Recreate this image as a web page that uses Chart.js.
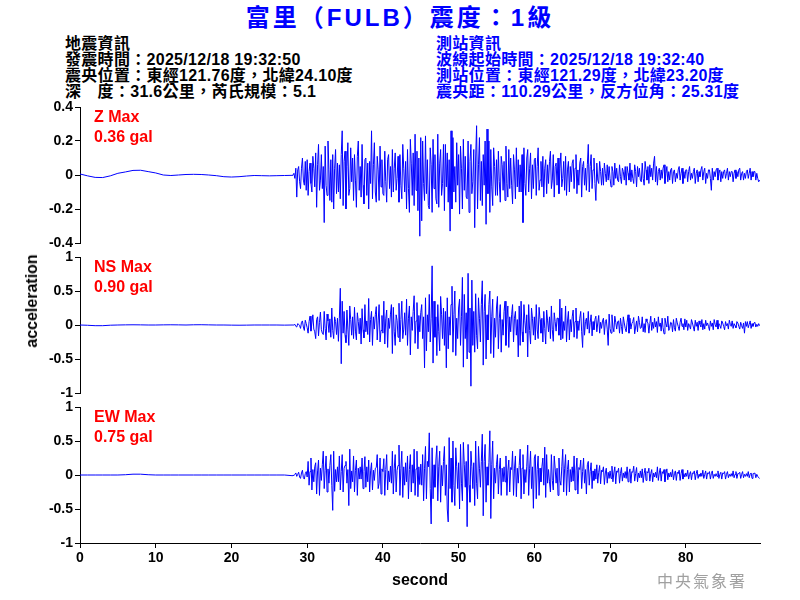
<!DOCTYPE html>
<html><head><meta charset="utf-8">
<script src="https://cdn.jsdelivr.net/npm/chart.js@4.4.1/dist/chart.umd.min.js"></script>
<style>
body{margin:0;width:800px;height:600px;position:relative;background:#fff;overflow:hidden;font-family:"Liberation Sans","Noto Sans CJK TC",sans-serif;}
.abs{position:absolute;white-space:nowrap;}
.title{left:0;top:5px;width:800px;text-align:center;font-weight:bold;font-size:24px;line-height:26px;color:#0000ff;letter-spacing:3px;}
.info{font-weight:bold;font-size:16px;line-height:16px;top:36px;letter-spacing:0.3px;}
.lbl{left:94px;font-weight:bold;font-size:16px;line-height:20px;color:#ff0000;}
.ylab{left:32px;top:301px;font-weight:bold;font-size:16px;line-height:18px;color:#000;transform:translate(-50%,-50%) rotate(-90deg);}
.org{left:657px;top:572px;font-size:16px;line-height:20px;letter-spacing:2px;color:#a0a0a0;}
canvas{position:absolute;left:0;}
</style></head><body>
<div class="abs title">富里（FULB）震度：1級</div>
<div class="abs info" style="left:65px;color:#000;">地震資訊<br>發震時間：2025/12/18 19:32:50<br>震央位置：東經121.76度，北緯24.10度<br>深　度：31.6公里，芮氏規模：5.1</div>
<div class="abs info" style="left:436px;color:#0000ff;">測站資訊<br>波線起始時間：2025/12/18 19:32:40<br>測站位置：東經121.29度，北緯23.20度<br>震央距：110.29公里，反方位角：25.31度</div>
<canvas id="c1" width="800" height="160" style="top:95px"></canvas>
<canvas id="c2" width="800" height="160" style="top:245px"></canvas>
<canvas id="c3" width="800" height="205" style="top:395px"></canvas>
<div class="abs lbl" style="top:107px">Z Max<br>0.36 gal</div>
<div class="abs lbl" style="top:257px">NS Max<br>0.90 gal</div>
<div class="abs lbl" style="top:407px">EW Max<br>0.75 gal</div>
<div class="abs ylab">acceleration</div>
<div class="abs org">中央氣象署</div>
<script>
const xMax = 89.8;
const xTicks = [0, 10, 20, 30, 40, 50, 60, 70, 80];
const zTicks = [0.4, 0.2, 0, -0.2, -0.4];
const hTicks = [1, 0.5, 0, -0.5, -1];
const preStep = 1;
const evStart = 28.125;
const evStep = 0.125;

const zPre = [0.006,-0.005,-0.014,-0.015,-0.005,0.01,0.018,0.027,0.028,0.02,0.012,0,-0.003,0,0.003,0.004,0.003,0,-0.004,-0.01,-0.012,-0.01,-0.006,-0.003,-0.004,-0.005,-0.004,-0.003,-0.002];
const nsPre = [0,-0.004,-0.01,-0.01,-0.003,0,0.002,0.003,0.002,0,0,0.002,0.003,0.002,0,0.003,0.004,0.002,0,0,-0.002,-0.003,-0.002,0,0,0,0,-0.002,0];
const ewPre = [0,0,0,0,0,0,0.004,0.012,0.012,0.004,0,0,0,0,0,0,0,0,0,0,0,0,0,0,0,0,0,0,-0.01];

const zEv = [
0.00,0.01,-0.02,0.04,-0.13,0.03,0.05,-0.04,
-0.08,0.04,0.10,-0.03,-0.06,0.08,-0.09,0.09,
-0.12,0.02,0.07,-0.05,-0.10,0.11,0.04,-0.07,
0.13,-0.19,0.06,0.18,-0.09,-0.03,0.12,-0.08,
0.05,-0.28,0.17,-0.06,-0.12,0.20,0.03,-0.15,
0.09,-0.16,0.12,-0.20,0.04,0.15,-0.11,0.07,
-0.10,0.06,-0.14,0.12,0.26,-0.18,0.08,0.14,
-0.20,0.05,0.19,-0.12,-0.08,0.16,-0.04,0.10,
-0.15,0.12,-0.03,-0.19,0.11,0.20,-0.09,0.05,
-0.13,0.18,-0.06,-0.17,0.09,0.10,-0.12,0.07,
-0.20,0.08,-0.05,0.26,-0.14,0.06,0.19,-0.10,
-0.16,0.11,0.03,-0.15,0.17,-0.07,0.09,-0.11,
-0.12,0.14,-0.04,-0.16,0.09,0.12,-0.08,0.05,
-0.13,0.15,-0.10,0.04,0.13,-0.09,-0.02,0.11,
-0.16,0.12,-0.06,-0.14,0.18,0.04,-0.10,0.08,
-0.20,0.15,-0.08,-0.22,0.21,0.07,-0.12,0.13,
-0.18,0.24,-0.09,0.14,-0.21,0.10,-0.36,0.22,
-0.27,0.20,-0.05,-0.15,0.23,-0.11,0.09,-0.18,
-0.20,0.16,0.06,-0.22,0.21,-0.08,0.12,-0.14,
-0.17,0.24,-0.19,0.07,0.15,-0.12,-0.05,0.18,
-0.21,0.18,-0.07,0.13,-0.16,0.09,-0.33,0.26,
-0.20,0.22,-0.10,0.05,-0.16,0.19,-0.06,0.12,
-0.23,0.17,0.04,-0.20,0.21,-0.09,0.11,-0.13,
-0.14,0.20,-0.22,0.08,0.18,-0.11,-0.04,0.15,
-0.31,0.10,0.29,-0.20,0.06,0.22,-0.15,0.08,
-0.18,0.12,-0.06,0.20,-0.29,0.27,-0.11,0.20,
-0.22,0.15,-0.07,-0.18,0.16,0.05,-0.12,0.09,
-0.12,0.14,-0.04,-0.16,0.11,0.06,-0.09,0.08,
-0.15,0.17,-0.05,-0.13,0.15,-0.08,0.10,-0.06,
-0.17,0.12,0.03,-0.14,0.16,-0.07,0.09,-0.10,
0.06,-0.10,0.12,-0.28,0.16,-0.05,-0.12,0.10,
0.15,-0.10,0.04,0.13,-0.14,0.06,-0.08,0.09,
0.10,-0.12,0.05,0.16,-0.09,-0.03,0.08,-0.07,
0.11,-0.13,0.04,0.09,-0.11,0.06,-0.05,0.08,
0.14,-0.08,-0.03,0.12,-0.13,0.05,0.07,-0.06,
0.10,-0.11,0.04,0.13,-0.07,-0.02,0.08,-0.09,
0.11,-0.12,0.03,0.08,-0.10,0.05,-0.04,0.07,
0.09,-0.08,0.04,0.12,-0.11,0.03,-0.06,0.07,
0.10,-0.13,0.05,0.08,-0.06,0.04,-0.09,0.06,
0.18,-0.10,0.05,0.12,-0.08,0.03,0.10,-0.05,
-0.15,0.07,-0.03,-0.05,0.08,0.02,-0.06,0.04,
-0.06,0.07,0.01,-0.04,0.06,-0.03,0.05,-0.02,
-0.07,0.05,0.02,-0.06,0.07,-0.02,0.04,-0.03,
-0.04,0.06,-0.01,-0.05,0.04,0.02,-0.03,0.05,
-0.06,0.05,0.01,-0.03,0.07,-0.04,0.03,-0.02,
-0.05,0.06,0.02,-0.07,0.05,-0.01,0.04,-0.03,
-0.04,0.07,-0.02,-0.06,0.08,0.03,-0.03,0.05,
-0.05,0.06,-0.01,0.04,-0.03,0.07,0.11,-0.04,
0.05,-0.06,0.02,0.04,-0.03,0.03,-0.02,0.04,
0.06,-0.05,0.01,0.05,-0.04,0.02,-0.03,0.03,
0.04,-0.05,0.02,0.03,-0.04,0.01,-0.02,0.03,
0.05,-0.03,0.01,0.04,-0.05,0.02,-0.02,0.03,
0.03,-0.04,0.02,0.05,-0.03,0.01,-0.02,0.02,
0.04,-0.05,0.01,0.03,-0.04,0.02,-0.01,0.03,
0.05,-0.03,0.02,0.04,-0.05,0.01,-0.02,0.03,
0.03,-0.02,-0.09,0.04,-0.03,0.02,-0.01,0.03,
0.04,-0.03,0.01,0.03,-0.04,0.02,-0.02,0.02,
0.03,-0.02,0.01,0.04,-0.03,0.02,-0.01,0.02,
0.02,-0.04,0.01,0.03,-0.02,0.02,-0.01,0.03,
0.04,-0.03,0.01,0.02,-0.03,0.01,-0.02,0.02,
0.03,-0.02,0.01,0.04,-0.03,0.02,-0.01,0.02,
0.02,-0.03,0.01,-0.02,-0.04,-0.03];

const nsEv = [
0.00,0.00,0.01,-0.02,-0.03,0.02,0.01,-0.01,
-0.05,0.04,0.06,-0.03,-0.08,0.07,0.02,-0.04,
-0.12,0.05,0.13,-0.09,0.03,0.15,-0.06,-0.10,
-0.20,0.08,0.12,-0.16,0.04,0.19,-0.07,-0.12,
-0.14,0.20,-0.05,-0.22,0.16,0.06,-0.11,0.09,
-0.18,0.25,-0.08,-0.20,0.12,0.05,-0.14,0.10,
-0.24,0.10,0.54,-0.57,0.35,-0.12,0.20,-0.15,
-0.26,0.22,-0.06,-0.30,0.28,0.08,-0.15,0.12,
-0.20,0.26,-0.09,-0.22,0.18,0.05,-0.13,0.10,
-0.28,0.24,-0.07,-0.19,0.30,-0.10,0.06,-0.14,
0.39,-0.25,0.08,0.20,-0.30,0.12,-0.06,0.15,
0.27,-0.22,0.06,0.30,-0.25,-0.08,0.14,-0.12,
0.35,-0.28,0.09,0.22,-0.33,0.10,-0.05,0.16,
0.30,-0.42,0.26,-0.10,-0.30,0.15,0.07,-0.18,
0.32,-0.25,0.08,0.35,-0.20,-0.06,0.18,-0.15,
0.38,-0.30,0.10,0.28,-0.44,0.12,-0.08,0.20,
0.43,-0.27,0.06,0.33,-0.35,0.14,-0.10,0.18,
0.30,-0.20,0.12,-0.63,0.40,-0.38,0.15,-0.10,
0.45,-0.25,0.10,0.87,-0.56,0.35,-0.18,0.12,
-0.45,0.30,-0.10,-0.38,0.42,0.15,-0.20,0.25,
-0.30,0.20,-0.63,0.40,-0.35,0.12,-0.15,0.30,
0.57,-0.40,0.15,0.50,-0.45,0.10,-0.20,0.25,
0.38,-0.30,0.12,0.70,-0.62,0.45,-0.20,0.18,
-0.50,0.76,-0.40,0.25,-0.90,0.66,-0.30,0.20,
-0.40,0.46,-0.15,-0.35,0.40,0.10,-0.25,0.30,
0.65,-0.59,0.20,0.45,-0.50,0.15,-0.22,0.30,
0.50,-0.42,0.12,0.38,-0.48,0.10,-0.18,0.25,
0.42,-0.35,0.10,0.30,-0.40,0.08,-0.15,0.20,
0.35,-0.30,0.08,0.28,-0.33,0.12,-0.10,0.15,
0.30,-0.25,0.10,0.20,-0.15,0.08,-0.47,0.28,
-0.30,0.35,-0.10,-0.25,0.30,0.06,-0.12,0.15,
-0.47,0.30,-0.08,-0.28,0.25,0.10,-0.15,0.12,
-0.22,0.30,-0.06,-0.20,0.26,0.08,-0.12,0.10,
-0.25,0.20,-0.05,-0.28,0.22,0.06,-0.10,0.12,
-0.20,0.28,-0.07,-0.24,0.18,0.05,-0.09,0.10,
0.10,-0.15,0.38,-0.22,0.25,-0.20,0.05,-0.08,
0.28,-0.25,0.06,0.20,-0.22,0.08,-0.10,0.12,
0.22,-0.18,0.05,0.25,-0.20,0.06,-0.08,0.10,
0.20,-0.10,-0.33,0.18,-0.15,0.05,0.10,-0.06,
0.20,-0.12,0.04,0.15,-0.16,0.05,-0.07,0.08,
0.13,-0.10,0.03,0.14,-0.12,0.04,-0.05,0.06,
0.10,-0.14,0.05,0.08,-0.06,-0.30,0.16,-0.05,
-0.12,0.15,-0.03,-0.10,0.13,0.04,-0.06,0.05,
0.06,-0.12,0.10,-0.02,-0.13,0.12,0.03,-0.05,
-0.10,0.04,0.15,-0.12,0.10,-0.06,0.02,0.05,
0.11,-0.13,-0.03,0.06,-0.10,0.13,0.04,-0.05,
-0.04,0.12,-0.10,0.02,-0.11,0.09,0.05,0.03,
-0.12,0.02,0.13,-0.08,0.04,-0.05,0.10,-0.03,
0.05,-0.11,0.12,-0.02,0.03,-0.09,0.10,-0.04,
-0.13,0.10,0.02,-0.03,0.13,-0.08,-0.05,0.04,
0.03,-0.10,0.08,-0.04,-0.09,0.10,0.03,-0.02,
-0.08,0.04,0.10,-0.02,0.02,-0.07,0.09,-0.03,
0.07,-0.08,0.02,-0.01,-0.06,0.08,0.03,-0.03,
-0.09,0.07,-0.02,0.04,-0.08,0.06,0.01,-0.03,
0.08,-0.07,0.02,-0.06,0.07,-0.01,0.03,-0.02,
-0.08,0.06,-0.02,0.03,-0.07,0.08,0.01,-0.03,
0.07,-0.06,0.02,-0.01,-0.05,0.06,0.03,-0.02,
-0.07,0.05,-0.01,0.02,-0.06,0.07,0.01,-0.02,
0.06,-0.05,0.02,-0.01,-0.04,0.05,0.03,-0.02,
-0.06,0.04,-0.01,-0.05,0.03,-0.12,0.05,-0.02,
0.05,-0.04,0.01,0.06,-0.05,0.02,-0.02,0.03,
0.04,-0.03,0.01,-0.02,0.02,-0.01];

const ewEv = [
0.00,-0.01,0.01,0.03,-0.02,0.01,0.04,-0.03,
-0.05,0.03,0.07,-0.04,-0.06,0.02,0.05,-0.03,
0.20,-0.15,0.05,0.25,-0.22,0.08,-0.10,0.12,
0.18,-0.28,0.06,0.22,-0.30,0.10,-0.08,0.15,
0.35,-0.20,0.07,0.28,-0.25,0.09,-0.12,0.14,
0.30,-0.15,-0.52,0.35,-0.24,0.08,-0.10,0.12,
-0.10,0.28,-0.22,0.05,0.30,-0.25,0.10,0.14,
0.20,-0.12,0.08,-0.45,0.38,-0.20,0.06,-0.10,
0.28,-0.25,0.07,0.22,-0.30,0.10,-0.06,0.12,
-0.06,0.25,-0.20,0.05,0.27,-0.18,0.12,-0.10,
0.22,-0.25,0.06,0.18,-0.22,0.07,-0.08,0.10,
0.11,0.30,-0.20,-0.12,0.25,-0.28,0.09,0.05,
0.24,-0.30,0.08,0.30,-0.22,0.06,-0.10,0.13,
-0.12,0.35,-0.28,0.10,0.30,-0.25,0.07,0.14,
0.44,-0.30,0.10,0.35,-0.33,0.12,-0.15,0.18,
-0.10,0.28,-0.35,0.08,0.30,-0.25,0.15,-0.12,
0.38,-0.30,0.09,0.35,-0.32,0.12,-0.14,0.16,
-0.15,0.30,-0.38,0.10,0.42,-0.35,0.20,0.12,
0.62,-0.20,-0.72,0.40,-0.35,0.15,-0.18,0.22,
0.43,-0.38,0.12,0.35,-0.40,0.14,-0.16,0.20,
0.42,-0.30,0.15,-0.50,-0.69,0.55,-0.20,0.25,
-0.40,0.50,-0.15,-0.45,0.40,0.12,-0.20,0.18,
-0.50,0.45,-0.12,-0.38,0.48,0.15,-0.18,0.20,
-0.76,0.45,-0.15,-0.40,0.35,0.12,-0.20,0.18,
-0.45,0.50,-0.12,-0.35,0.42,0.10,-0.18,0.20,
0.60,-0.60,0.20,0.45,-0.40,0.12,-0.15,0.18,
0.65,-0.64,0.15,0.50,-0.35,0.10,-0.12,0.15,
0.30,-0.28,0.08,0.25,-0.30,0.10,-0.10,0.12,
-0.10,0.28,-0.30,0.06,0.22,-0.25,0.11,0.08,
0.35,-0.30,0.09,0.28,-0.32,0.10,-0.12,0.14,
0.38,-0.35,0.10,0.30,-0.28,0.08,-0.11,0.13,
0.44,-0.30,0.10,0.35,-0.20,0.12,-0.49,0.25,
0.30,-0.35,0.08,0.28,-0.30,0.10,-0.10,0.12,
0.25,-0.15,0.41,-0.33,0.30,-0.12,0.08,-0.10,
-0.25,0.30,-0.08,-0.22,0.28,0.10,-0.12,0.10,
-0.30,0.25,-0.08,-0.15,0.12,0.38,-0.25,0.10,
0.30,-0.30,0.08,0.22,-0.25,0.08,-0.10,0.12,
-0.09,0.28,-0.22,0.06,0.25,-0.28,0.11,0.08,
0.22,-0.20,0.05,0.25,-0.12,0.08,-0.28,0.15,
0.20,-0.15,0.05,0.18,-0.20,0.06,-0.08,0.09,
-0.06,0.15,-0.12,0.04,0.14,-0.13,0.07,0.05,
0.12,-0.14,0.03,0.10,-0.12,0.04,-0.05,0.06,
-0.05,0.13,-0.10,0.03,0.12,-0.13,0.06,0.04,
0.10,-0.12,0.02,0.11,-0.09,0.03,-0.04,0.05,
-0.05,0.12,-0.10,0.03,0.09,-0.12,0.05,0.04,
0.13,-0.09,0.02,0.11,-0.10,0.03,-0.04,0.06,
-0.04,0.09,-0.11,0.02,0.10,-0.08,0.05,0.03,
0.10,-0.09,0.02,0.08,-0.10,0.03,-0.03,0.04,
-0.04,0.12,-0.08,0.03,0.10,-0.09,0.05,0.02,
0.08,-0.10,0.02,0.09,-0.07,0.03,-0.03,0.04,
-0.03,0.08,-0.07,0.02,0.06,-0.08,0.04,0.02,
0.07,-0.08,0.02,0.08,-0.06,0.02,-0.03,0.03,
-0.02,0.07,-0.06,0.01,0.05,-0.07,0.03,0.02,
0.06,-0.07,0.02,0.07,-0.05,0.01,-0.02,0.03,
-0.02,0.07,-0.05,0.01,0.06,-0.06,0.03,0.02,
0.05,-0.06,0.02,0.06,-0.05,0.01,-0.02,0.02,
-0.02,0.06,-0.05,0.01,0.04,-0.06,0.03,0.02,
0.05,-0.06,0.01,0.05,-0.04,0.01,-0.02,0.02,
-0.02,0.06,-0.04,0.01,0.05,-0.05,0.02,0.02,
0.04,-0.05,0.01,0.05,-0.04,0.01,-0.02,0.02,
-0.02,0.05,-0.04,0.01,0.03,-0.05,0.02,0.02,
0.03,-0.04,0.01,-0.02,-0.04,-0.05];

Chart.defaults.font.family = '"Liberation Sans", Arial, sans-serif';

function toPoints(pre, ev) {
  const pts = [];
  pre.forEach((v, i) => pts.push({x: i * preStep, y: v}));
  ev.forEach((v, i) => pts.push({x: evStart + i * evStep, y: v}));
  return pts;
}

function makePanel(id, pts, tickVals, yMax, showX) {
  const axisGrid = {display: true, drawOnChartArea: false, drawTicks: true, tickLength: 5, color: '#000', lineWidth: 1};
  const axisBorder = {display: true, color: '#000', width: 1};
  return new Chart(document.getElementById(id), {
    type: 'line',
    data: {datasets: [{data: pts, borderColor: '#0000ff', borderWidth: 1, pointRadius: 0, tension: 0, fill: false}]},
    options: {
      responsive: false, maintainAspectRatio: false, animation: false, events: [],
      layout: {padding: {top: 12, bottom: showX ? 0 : 12, left: 0, right: 40}},
      plugins: {legend: {display: false}, tooltip: {enabled: false}},
      scales: {
        x: {
          type: 'linear', min: 0, max: xMax, display: showX,
          afterBuildTicks: s => { s.ticks = xTicks.map(v => ({value: v})); },
          afterFit: s => { if (showX) s.height = 57; },
          grid: axisGrid, border: axisBorder,
          ticks: {color: '#000', font: {size: 14, weight: 'bold'}, padding: 2, maxRotation: 0},
          title: {display: true, text: 'second', color: '#000', font: {size: 16, weight: 'bold'}, padding: {top: 0, bottom: 10}}
        },
        y: {
          type: 'linear', min: -yMax, max: yMax,
          afterBuildTicks: s => { s.ticks = tickVals.map(v => ({value: v})); },
          afterFit: s => { s.width = 80; },
          grid: axisGrid, border: axisBorder,
          ticks: {color: '#000', font: {size: 14, weight: 'bold'}, padding: 2, callback: v => String(v)}
        }
      }
    }
  });
}

makePanel('c1', toPoints(zPre, zEv), zTicks, 0.4, false);
makePanel('c2', toPoints(nsPre, nsEv), hTicks, 1, false);
makePanel('c3', toPoints(ewPre, ewEv), hTicks, 1, true);
</script>
</body></html>
